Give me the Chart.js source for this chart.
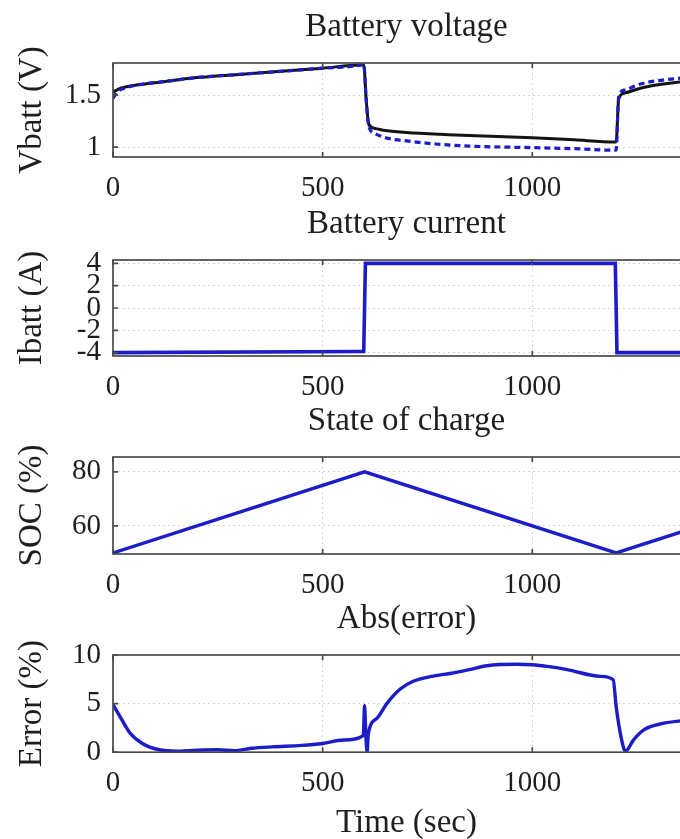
<!DOCTYPE html>
<html>
<head>
<meta charset="utf-8">
<script src="https://cdn.jsdelivr.net/npm/chart.js@4"></script>
<style>
  html, body { margin: 0; padding: 0; background: #fff; overflow: hidden; width: 680px; height: 839px; }
  .panel { position: absolute; left: 0; width: 700px; }
</style>
</head>
<body>
<div class="panel" style="top:0px;height:219px"><canvas id="voltChart"></canvas></div>
<div class="panel" style="top:197px;height:221px"><canvas id="currChart"></canvas></div>
<div class="panel" style="top:394px;height:222px"><canvas id="socChart"></canvas></div>
<div class="panel" style="top:592px;height:251px"><canvas id="errChart"></canvas></div>
<script>
// shared time axis
const timeTicks = [0, 500, 1000];
const timeMax = 1400;

// Battery voltage (measured = black solid, model = blue dashed)
const voltTime = [0, 20, 60, 120, 200, 300, 400, 500, 590, 598, 604, 610, 625, 650, 700, 800, 900, 1000, 1100, 1195, 1200, 1206, 1220, 1260, 1300, 1400];
const voltMeasured = [1.53, 1.57, 1.60, 1.63, 1.67, 1.70, 1.73, 1.76, 1.79, 1.79, 1.45, 1.22, 1.18, 1.16, 1.14, 1.12, 1.105, 1.09, 1.07, 1.05, 1.05, 1.46, 1.52, 1.57, 1.60, 1.65];
const voltModelTime = [0, 10, 30, 60, 120, 200, 300, 400, 500, 590, 598, 604, 610, 625, 650, 700, 770, 850, 1000, 1100, 1195, 1200, 1206, 1220, 1260, 1300, 1400];
const voltModel = [1.47, 1.53, 1.57, 1.60, 1.63, 1.67, 1.70, 1.73, 1.76, 1.79, 1.80, 1.45, 1.20, 1.13, 1.09, 1.06, 1.03, 1.01, 0.995, 0.985, 0.97, 0.97, 1.48, 1.55, 1.61, 1.64, 1.68];
const voltTicks = [1, 1.5];

// Battery current
const currTime = [0, 590, 598, 602, 1198, 1202, 1400];
const currBatt = [-4, -3.9, -3.9, 4, 4, -4, -4];
const currTicks = [-4, -2, 0, 2, 4];

// State of charge
const socTime = [0, 600, 1200, 1400];
const socValues = [50, 80, 50, 60];
const socTicks = [60, 80];

// Abs(error)
const errTime = [0, 15, 40, 70, 110, 150, 200, 250, 290, 330, 380, 450, 500, 550, 597, 600, 603, 606, 609, 630, 653, 685, 716, 760, 804, 850, 892, 964, 1000, 1040, 1083, 1162, 1193, 1200, 1212, 1222, 1242, 1266, 1305, 1400];
const errValues = [4.9, 3.8, 2.0, 0.9, 0.25, 0.1, 0.2, 0.25, 0.15, 0.4, 0.55, 0.7, 0.9, 1.25, 1.7, 4.8, 1.8, 0.0, 1.9, 3.5, 5.0, 6.5, 7.3, 7.8, 8.1, 8.5, 8.9, 9.05, 9.0, 8.8, 8.5, 7.8, 7.45, 4.7, 1.5, 0.1, 1.3, 2.3, 2.9, 3.4];
const errTicks = [0, 5, 10];

const FONT = 'Liberation Serif';
const TICK_FS = 29;
const LABEL_FS = 33;
const TITLE_LH = LABEL_FS * 1.2;
const TEXT = '#1e1e1e';
const BLUE = '#1c1cc8';

const pts = (xs, ys) => xs.map((x, i) => ({ x, y: ys[i] }));

const boxPlugin = {
  id: 'box',
  afterDatasetsDraw(chart) {
    const { ctx, chartArea: a, scales } = chart;
    ctx.save();
    ctx.strokeStyle = '#4a4a4a';
    ctx.lineWidth = 1.7;
    ctx.beginPath();
    scales.x.ticks.forEach(t => {
      const px = scales.x.getPixelForValue(t.value);
      ctx.moveTo(px, a.bottom); ctx.lineTo(px, a.bottom - 5);
      ctx.moveTo(px, a.top); ctx.lineTo(px, a.top + 5);
    });
    scales.y.ticks.forEach(t => {
      const py = scales.y.getPixelForValue(t.value);
      ctx.moveTo(a.left, py); ctx.lineTo(a.left + 5, py);
    });
    ctx.stroke();
    ctx.strokeRect(a.left, a.top, a.right - a.left, a.bottom - a.top);
    ctx.restore();
  }
};

function makePanel(id, opts) {
  const xScale = {
    type: 'linear', min: 0, max: timeMax,
    afterBuildTicks: s => { s.ticks = timeTicks.map(v => ({ value: v })); },
    grid: { color: 'rgba(0,0,0,0.16)', lineWidth: 1, drawTicks: false },
    border: { display: false, dash: [2, 3] },
    ticks: { color: TEXT, padding: 13.6, maxRotation: 0, font: { family: FONT, size: TICK_FS }, callback: v => String(v) }
  };
  if (opts.xTitle) {
    xScale.title = {
      display: true, text: opts.xTitle, color: TEXT,
      font: { family: FONT, size: LABEL_FS }, padding: { top: 0, bottom: 0 }
    };
    // put the axis label where the reference has it
    xScale.afterFit = s => { s.height = 90.8; };
  }
  return new Chart(document.getElementById(id), {
    type: 'line',
    data: { datasets: opts.datasets },
    options: {
      responsive: true,
      maintainAspectRatio: false,
      animation: false,
      devicePixelRatio: 1,
      layout: { padding: 0 },
      elements: { point: { radius: 0 } },
      plugins: {
        legend: { display: false },
        tooltip: { enabled: false },
        title: {
          display: true, text: opts.title, color: TEXT, fullSize: false,
          font: { family: FONT, size: LABEL_FS, weight: 'normal' },
          padding: { top: 7.2, bottom: 63 - 7.2 - TITLE_LH }
        }
      },
      scales: {
        x: xScale,
        y: {
          type: 'linear', min: opts.yMin, max: opts.yMax,
          afterBuildTicks: s => { s.ticks = opts.yTicks.map(v => ({ value: v })); },
          afterFit: s => { s.width = 113; },
          grid: { color: 'rgba(0,0,0,0.16)', lineWidth: 1, drawTicks: false },
          border: { display: false, dash: [2, 3] },
          ticks: { color: TEXT, padding: 12, autoSkip: false, font: { family: FONT, size: TICK_FS }, callback: v => String(v) },
          title: {
            display: true, text: opts.yTitle, color: TEXT,
            font: { family: FONT, size: LABEL_FS }, padding: { top: 12.2, bottom: 0 }
          }
        }
      }
    },
    plugins: [boxPlugin]
  });
}

makePanel('voltChart', {
  title: 'Battery voltage', yTitle: 'Vbatt (V)',
  yMin: 0.905, yMax: 1.81, yTicks: voltTicks,
  datasets: [
    { data: pts(voltModelTime, voltModel), borderColor: BLUE, borderWidth: 3.2, borderDash: [6, 4], cubicInterpolationMode: 'monotone' },
    { data: pts(voltTime, voltMeasured), borderColor: '#141414', borderWidth: 3, cubicInterpolationMode: 'monotone' }
  ]
});

makePanel('currChart', {
  title: 'Battery current', yTitle: 'Ibatt (A)',
  yMin: -4.3, yMax: 4.3, yTicks: currTicks,
  datasets: [
    { data: pts(currTime, currBatt), borderColor: BLUE, borderWidth: 3.6 }
  ]
});

makePanel('socChart', {
  title: 'State of charge', yTitle: 'SOC (%)',
  yMin: 49.6, yMax: 85.5, yTicks: socTicks,
  datasets: [
    { data: pts(socTime, socValues), borderColor: BLUE, borderWidth: 3.4 }
  ]
});

makePanel('errChart', {
  title: 'Abs(error)', yTitle: 'Error (%)', xTitle: 'Time (sec)',
  yMin: 0, yMax: 10, yTicks: errTicks,
  datasets: [
    { data: pts(errTime, errValues), borderColor: BLUE, borderWidth: 3.4, cubicInterpolationMode: 'monotone' }
  ]
});
</script>
</body>
</html>
